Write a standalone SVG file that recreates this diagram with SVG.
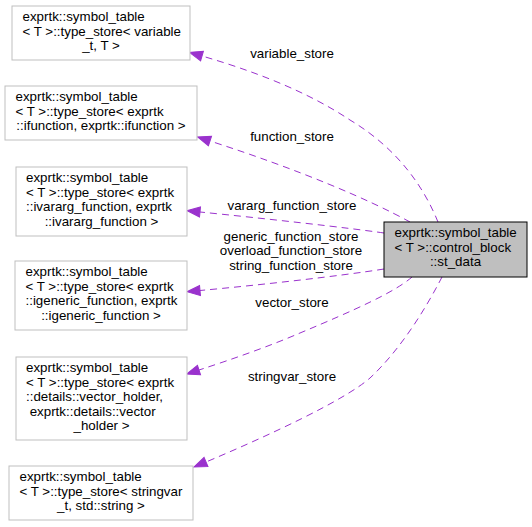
<svg xmlns="http://www.w3.org/2000/svg" width="532" height="527" viewBox="0 0 532 527">
<style>
  text { font-family: "Liberation Sans", Arial, sans-serif; font-size: 13.33px; fill: #000000; }
  .mid { text-anchor: middle; }
  .node rect { fill: #ffffff; stroke: #bfbfbf; stroke-width: 1; }
  .main rect { fill: #bfbfbf; stroke: #000000; stroke-width: 1; }
  .edge { fill: none; stroke: #9a32cd; stroke-width: 1; stroke-dasharray: 7,5; }
</style>
<defs>
  <marker id="arrow" markerUnits="userSpaceOnUse" markerWidth="14" markerHeight="12" refX="0" refY="5" orient="auto" overflow="visible">
    <path d="M0,0 L13,5 L0,10 Z" fill="#9a32cd" stroke="#9a32cd" stroke-width="1"/>
  </marker>
</defs>
<rect x="0" y="0" width="532" height="527" fill="#ffffff"/>

<g id="connectors">
  <path class="edge" marker-end="url(#arrow)" d="M438,222 C425,190 400,150 350,120 C305,90 250,70 202,56"/>
  <path class="edge" marker-end="url(#arrow)" d="M410,222 C370,200 300,170 210,141"/>
  <path class="edge" marker-end="url(#arrow)" d="M384,233 C350,228 260,218 200,212"/>
  <path class="edge" marker-end="url(#arrow)" d="M384,269 C340,276 260,285 200,290.5"/>
  <path class="edge" marker-end="url(#arrow)" d="M412,277 C395,292 355,310 300,333 C270,346 230,360 199,370"/>
  <path class="edge" marker-end="url(#arrow)" d="M442,277 C425,310 400,350 370,378 C345,400 270,435 206,462"/>
  <text class="mid" x="292" y="58">variable_store</text>
  <text class="mid" x="292" y="140.5">function_store</text>
  <text class="mid" x="292" y="210">vararg_function_store</text>
  <text class="mid" x="291" y="240.5">generic_function_store</text>
  <text class="mid" x="291" y="255">overload_function_store</text>
  <text class="mid" x="291" y="269.5">string_function_store</text>
  <text class="mid" x="292" y="306.5">vector_store</text>
  <text class="mid" x="292" y="381">stringvar_store</text>
</g>

<g id="node-main" class="main">
  <rect x="384" y="222" width="143" height="55"/>
  <text x="394.5" y="237">exprtk::symbol_table</text>
  <text x="394.5" y="251.5">&lt; T &gt;::control_block</text>
  <text class="mid" x="455.5" y="266">::st_data</text>
</g>

<g id="node-variable" class="node">
  <rect x="12" y="6" width="178" height="54"/>
  <text x="22.5" y="21">exprtk::symbol_table</text>
  <text x="22.5" y="35.5">&lt; T &gt;::type_store&lt; variable</text>
  <text class="mid" x="101" y="50">_t, T &gt;</text>
</g>

<g id="node-function" class="node">
  <rect x="5" y="86" width="192" height="54"/>
  <text x="15.5" y="101">exprtk::symbol_table</text>
  <text x="15.5" y="115.5">&lt; T &gt;::type_store&lt; exprtk</text>
  <text class="mid" x="101" y="130">::ifunction, exprtk::ifunction &gt;</text>
</g>

<g id="node-vararg" class="node">
  <rect x="16" y="167" width="171" height="69"/>
  <text x="26" y="182">exprtk::symbol_table</text>
  <text x="26" y="196.5">&lt; T &gt;::type_store&lt; exprtk</text>
  <text x="26" y="211">::ivararg_function, exprtk</text>
  <text class="mid" x="101.5" y="225.5">::ivararg_function &gt;</text>
</g>

<g id="node-generic" class="node">
  <rect x="15" y="261" width="172" height="69"/>
  <text x="25.5" y="276">exprtk::symbol_table</text>
  <text x="25.5" y="290.5">&lt; T &gt;::type_store&lt; exprtk</text>
  <text x="25.5" y="305">::igeneric_function, exprtk</text>
  <text class="mid" x="101" y="319.5">::igeneric_function &gt;</text>
</g>

<g id="node-vector" class="node">
  <rect x="16" y="357" width="171" height="83"/>
  <text x="26" y="372">exprtk::symbol_table</text>
  <text x="26" y="386.5">&lt; T &gt;::type_store&lt; exprtk</text>
  <text x="26" y="401">::details::vector_holder,</text>
  <text x="29.7" y="415.5">exprtk::details::vector</text>
  <text class="mid" x="101.5" y="430">_holder &gt;</text>
</g>

<g id="node-stringvar" class="node">
  <rect x="9" y="466" width="184" height="54"/>
  <text x="19.5" y="481">exprtk::symbol_table</text>
  <text x="19.5" y="495.5">&lt; T &gt;::type_store&lt; stringvar</text>
  <text class="mid" x="101" y="510">_t, std::string &gt;</text>
</g>
</svg>
